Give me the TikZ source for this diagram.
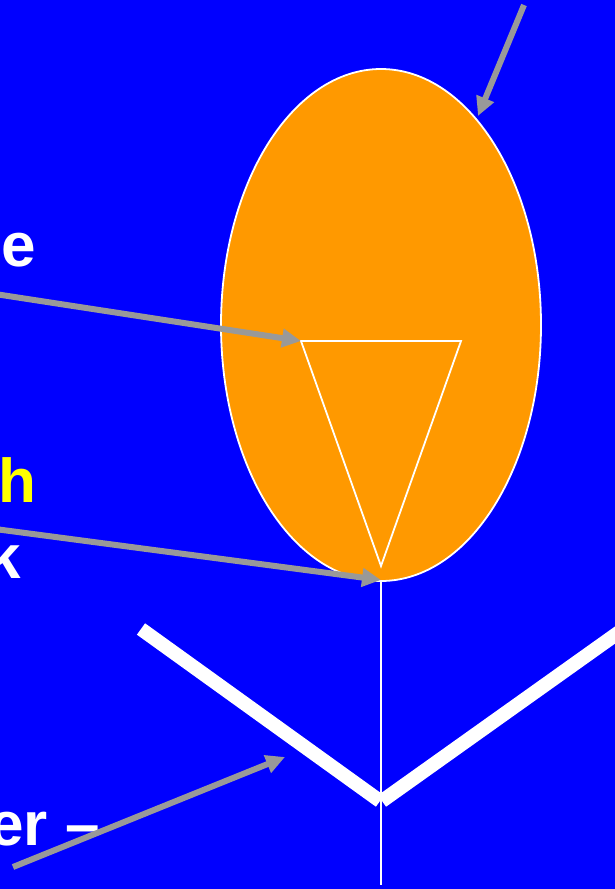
\documentclass[tikz,border=0pt]{standalone}
\usepackage{fontspec}
\setmainfont{Liberation Sans}
\usetikzlibrary{arrows.meta,calc,positioning}
\definecolor{slideblue}{RGB}{0,0,255}
\definecolor{headorange}{RGB}{255,153,0}
\definecolor{arrowgray}{RGB}{153,153,153}
\definecolor{labelyellow}{RGB}{255,255,0}
\def\headrx{160}
\def\headry{256}
\def\labelfont{\fontsize{62}{70}\selectfont\bfseries}

\begin{document}
\begin{tikzpicture}[x=1pt,y=-1pt,
    pointer/.style={draw=arrowgray, line width=6pt, -{Triangle[length=19pt,width=18pt]}},
    limb/.style={draw=white, line width=14pt, line cap=butt},
    outline/.style={draw=white, line width=1.8pt},
    label/.style={anchor=base east, inner sep=0pt, text=white, font=\labelfont}
  ]
  \fill[slideblue] (0,0) rectangle (615,889);
  \useasboundingbox (0,0) rectangle (615,889);
  \clip (0,0) rectangle (615,889);

  % head
  \coordinate (HC) at (381,325);
  \draw[outline, fill=headorange] (HC) ellipse ({\headrx pt} and {\headry pt});
  \coordinate (HT) at ($ (HC) + (0,-\headry) $);
  \coordinate (HB) at ($ (HC) + (0,\headry) $);

  % nose
  \coordinate (NL) at (301,341);
  \coordinate (NR) at (461,341);
  \coordinate (NA) at (381,566);
  \draw[outline, line join=miter] (NL) -- (NR) -- (NA) -- cycle;

  % neck and body
  \coordinate (BE) at (381,885);
  \draw[outline] (HB) -- (BE);

  % arms
  \coordinate (AL) at (141,629);
  \coordinate (AM) at (381,801);
  \coordinate (AR) at (660,603);
  \draw[limb] (AL) -- ($ (AM) + (-1,0) $);
  \draw[limb] ($ (AM) + (1,0) $) -- (AR);

  % labels
  \node[label] (e-text) at (36,266) {e};
  \node[label, text=labelyellow] (h-text) at (37,502) {h};
  \node[label] (k-text) at (21,578) {k};
  \node[label] (er-text) at (100,845) {er –};

  % pointers
  \coordinate (P1S) at (524,5);
  \coordinate (P1E) at (478,116);
  \coordinate (P2S) at (-5,294);
  \coordinate (P3S) at (-5,529);
  \coordinate (P3E) at (381,580);
  \coordinate (P4S) at (13,867);
  \coordinate (P4E) at (285,757);
  \draw[pointer] (P1S) -- (P1E);
  \draw[pointer] (P2S) -- (NL);
  \draw[pointer] (P3S) -- (P3E);
  \draw[pointer] (P4S) -- (P4E);

\end{tikzpicture}
\end{document}
